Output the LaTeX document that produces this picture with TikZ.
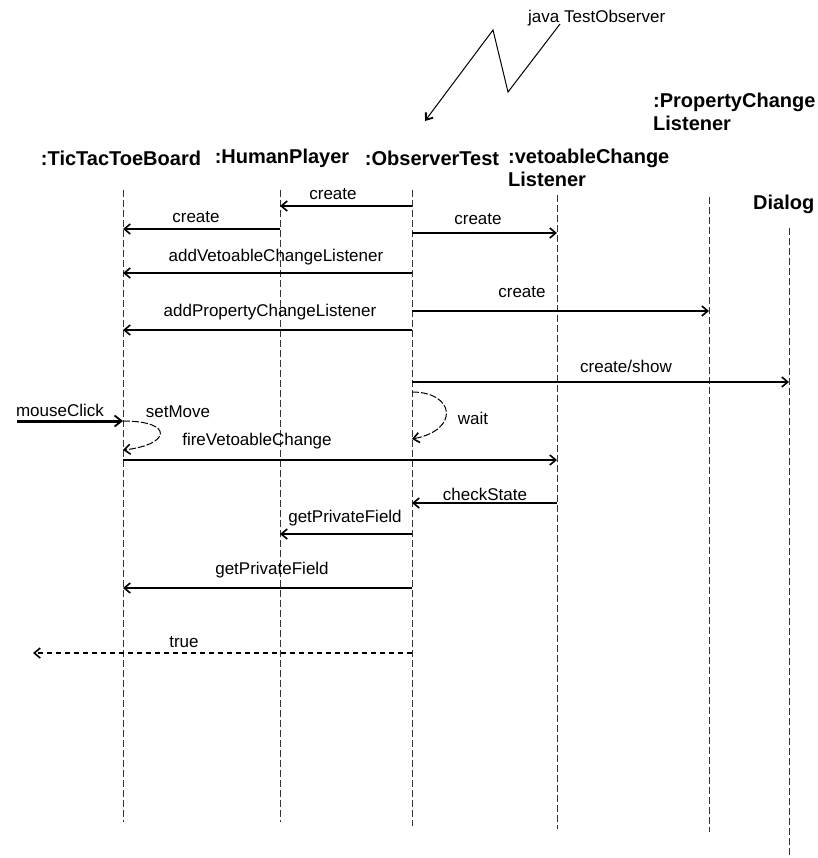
\documentclass[tikz,border=0pt]{standalone}
\usepackage{fontspec}
\setmainfont{Liberation Sans}
\usetikzlibrary{arrows.meta}
\begin{document}
\begin{tikzpicture}[x=1pt,y=-1pt,
  hdr/.style={inner sep=0pt, font=\fontsize{20}{23}\selectfont\bfseries},
  lbl/.style={inner sep=0pt, font=\fontsize{17}{19}\selectfont},
  lifeline/.style={draw=black!80, line width=0.9pt, dash pattern=on 7pt off 3pt},
  tip/.style={-{Straight Barb[length=6pt,width=10pt,line width=1.6pt]}},
  msg/.style={draw=black, line width=1.2pt, tip},
  reply/.style={draw=black, line width=1.2pt, dash pattern=on 5pt off 4pt, tip},
  selfcall/.style={draw=black, line width=1pt, dash pattern=on 7pt off 2pt, tip},
  external/.style={draw=black, line width=3pt, -{Straight Barb[length=7pt,width=11pt,line width=1.8pt]}},
  bolt/.style={draw=black, line width=1pt, -{Straight Barb[length=6pt,width=9pt,line width=1.8pt]}}
]
\useasboundingbox (0,0) rectangle (817,858);

% command line that starts the test
\node[lbl, anchor=west] (cmd) at (528,18) {java TestObserver};
\coordinate (z0) at (560,24);
\coordinate (z1) at (508,92);
\coordinate (z2) at (493,30);
\coordinate (z3) at (425,121);
\draw[bolt] (z0) -- (z1) -- (z2) -- (z3);

% object headers
\node[hdr] (board) at (121,158) {:TicTacToeBoard};
\node[hdr] (human) at (282,158) {:HumanPlayer};
\node[hdr] (otest) at (432,158) {:ObserverTest};
\node[hdr, align=left, anchor=west] (veto) at (508,168) {:vetoableChange\\Listener};
\node[hdr, align=left, anchor=west] (prop) at (653,112) {:PropertyChange\\Listener};
\node[hdr, anchor=west] (dialog) at (753,204) {Dialog};

% lifelines
\coordinate (t1) at (123,190); \coordinate (u1) at (123,822);
\coordinate (t2) at (280,190); \coordinate (u2) at (280,822);
\coordinate (t3) at (412,190); \coordinate (u3) at (412,826);
\coordinate (t4) at (557,195); \coordinate (u4) at (557,829);
\coordinate (t5) at (709,197); \coordinate (u5) at (709,832);
\coordinate (t6) at (789,228); \coordinate (u6) at (789,858);
\foreach \i in {1,...,6} {\draw[lifeline] (t\i) -- (u\i);}

% message end points
\coordinate (a3) at (412,206); \coordinate (a2) at (280,206);
\coordinate (b2) at (280,229); \coordinate (b1) at (123,229);
\coordinate (c3) at (412,233); \coordinate (c4) at (557,233);
\coordinate (d3) at (412,273); \coordinate (d1) at (123,273);
\coordinate (e3) at (412,311); \coordinate (e5) at (709,311);
\coordinate (f3) at (412,330); \coordinate (f1) at (123,330);
\coordinate (g3) at (412,382); \coordinate (g6) at (789,382);
\coordinate (h0) at (17,421);  \coordinate (h1) at (123,421);
\coordinate (s1) at (123,421); \coordinate (s2) at (123,450);
\coordinate (w1) at (412,392); \coordinate (w2) at (412,439);
\coordinate (k1) at (123,460); \coordinate (k4) at (557,460);
\coordinate (m4) at (557,503); \coordinate (m3) at (412,503);
\coordinate (n3) at (412,534); \coordinate (n2) at (280,534);
\coordinate (p3) at (412,588); \coordinate (p1) at (123,588);
\coordinate (q3) at (412,653); \coordinate (q0) at (33,653);

% messages
\draw[msg] (a3) -- (a2);
\node[lbl] (la) at (333,194) {create};
\draw[msg] (b2) -- (b1);
\node[lbl] (lb) at (196,217) {create};
\draw[msg] (c3) -- (c4);
\node[lbl] (lc) at (478,219) {create};
\draw[msg] (d3) -- (d1);
\node[lbl] (ld) at (276,257) {addVetoableChangeListener};
\draw[msg] (e3) -- (e5);
\node[lbl] (le) at (522,292) {create};
\draw[msg] (f3) -- (f1);
\node[lbl] (lf) at (270,312) {addPropertyChangeListener};
\draw[msg] (g3) -- (g6);
\node[lbl] (lg) at (626,366) {create/show};

% user input and self calls
\draw[external] (h0) -- (h1);
\node[lbl] (lh) at (60,410) {mouseClick};
\draw[selfcall] (s1) .. controls (175,421) and (170,445) .. (s2);
\node[lbl] (ls) at (178,412) {setMove};
\draw[selfcall] (w1) .. controls (455,392) and (460,430) .. (w2);
\node[lbl] (lw) at (473,418) {wait};

\draw[msg] (k1) -- (k4);
\node[lbl] (lk) at (257,441) {fireVetoableChange};
\draw[msg] (m4) -- (m3);
\node[lbl] (lm) at (485,494) {checkState};
\draw[msg] (n3) -- (n2);
\node[lbl] (ln) at (345,518) {getPrivateField};
\draw[msg] (p3) -- (p1);
\node[lbl] (lp) at (272,570) {getPrivateField};

% return value
\draw[reply] (q3) -- (q0);
\node[lbl] (lq) at (184,642) {true};
\end{tikzpicture}
\end{document}
